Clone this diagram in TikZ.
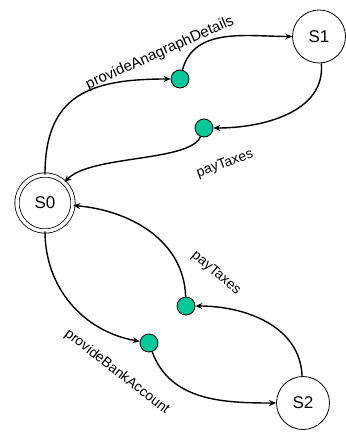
\documentclass[tikz,border=0pt]{standalone}
\usepackage{fontspec}
\setmainfont{Liberation Sans}
\usetikzlibrary{arrows.meta}
\definecolor{dotgreen}{RGB}{0,200,150}
\begin{document}
\begin{tikzpicture}[x=1pt,y=1pt,
  state/.style={circle,draw,line width=0.8pt,minimum size=53pt,inner sep=0pt,font=\fontsize{17}{20}\selectfont},
  evdot/.style={circle,draw,line width=0.8pt,fill=dotgreen,minimum size=18pt,inner sep=0pt},
  edge/.style={line width=1.4pt,-{Stealth[length=7pt,width=6pt]}},
  lbl/.style={font=\fontsize{14}{16}\selectfont,inner sep=0pt}]
\useasboundingbox (0,0) rectangle (345,-435);
\node[state,double,double distance=3.5pt,minimum size=56pt] (S0) at (45,-203) {S0};
\node[state] (S1) at (319,-36.5) {S1};
\node[state] (S2) at (303,-403) {S2};
\node[evdot] (d1) at (180,-79) {};
\node[evdot] (d2) at (204,-128) {};
\node[evdot] (d3) at (186,-306) {};
\node[evdot] (d4) at (149,-343) {};
\draw[edge] (S0) to[out=90,in=180,looseness=1.3] (d1);
\draw[edge] (d1) to[out=75,in=180] (S1);
\draw[edge] (S1) to[out=-85,in=0] (d2);
\draw[edge] (d2) .. controls (190,-162) and (90,-155) .. (S0);
\draw[edge] (d3) to[out=92,in=-5] (S0);
\draw[edge] (S2) to[out=92,in=0] (d3);
\draw[edge] (S0) to[out=-90,in=170] (d4);
\draw[edge] (d4) to[out=-70,in=180] (S2);
\node[lbl,font=\fontsize{15}{17}\selectfont,rotate=24] (l1) at (160,-53) {provideAnagraphDetails};
\node[lbl,rotate=20] (l2) at (225,-164) {payTaxes};
\node[lbl,rotate=-40] (l3) at (216,-273) {payTaxes};
\node[lbl,rotate=-38] (l4) at (117,-372) {provideBankAccount};
\end{tikzpicture}
\end{document}
